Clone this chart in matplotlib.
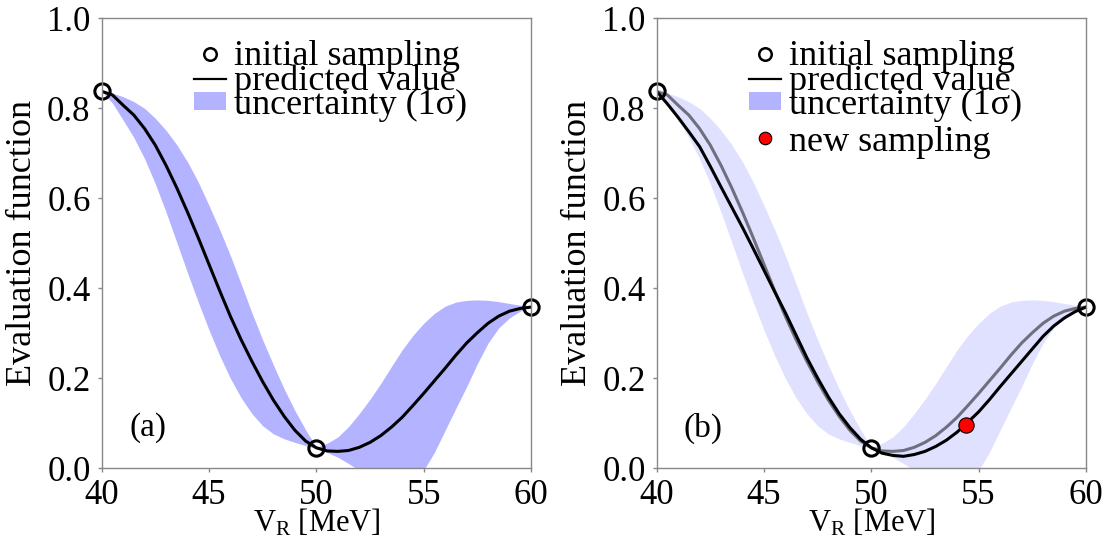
import numpy as np
import matplotlib.pyplot as plt
from matplotlib.lines import Line2D
from matplotlib.patches import Patch

plt.rcParams["font.family"] = ["Liberation Serif", "DejaVu Serif"]
plt.rcParams["mathtext.fontset"] = "custom"
plt.rcParams["mathtext.rm"] = "Liberation Serif"

# V_R grid [MeV], read every 0.5 MeV
v_r = np.arange(40, 60.01, 0.5)

# (a) prediction after initial sampling
mean_a = [0.838, 0.830, 0.807, 0.785, 0.755, 0.718, 0.673, 0.623, 0.569, 0.512,
          0.453, 0.394, 0.337, 0.285, 0.237, 0.192, 0.151, 0.115, 0.084, 0.060,
          0.045, 0.038, 0.037, 0.039, 0.046, 0.057, 0.072, 0.091, 0.113, 0.139,
          0.166, 0.194, 0.222, 0.251, 0.278, 0.301, 0.322, 0.338, 0.349, 0.355, 0.358]
upper_a = [0.838, 0.834, 0.826, 0.815, 0.800, 0.778, 0.751, 0.719, 0.681, 0.636,
           0.584, 0.530, 0.472, 0.409, 0.345, 0.285, 0.229, 0.176, 0.128, 0.085,
           0.046, 0.055, 0.069, 0.092, 0.121, 0.153, 0.188, 0.226, 0.263, 0.295,
           0.322, 0.344, 0.360, 0.369, 0.373, 0.374, 0.373, 0.370, 0.366, 0.362, 0.358]
lower_a = [0.838, 0.812, 0.774, 0.735, 0.688, 0.632, 0.569, 0.502, 0.434, 0.369,
           0.307, 0.250, 0.199, 0.156, 0.121, 0.094, 0.076, 0.065, 0.057, 0.050,
           0.043, 0.035, 0.024, 0.010, -0.005, -0.020, -0.035, -0.045, -0.045, -0.030,
           -0.005, 0.035, 0.084, 0.133, 0.181, 0.232, 0.278, 0.312, 0.334, 0.349, 0.358]

# (b) prediction after adding the new sampling point
mean_b = [0.838, 0.810, 0.780, 0.748, 0.715, 0.671, 0.625, 0.580, 0.535, 0.488,
          0.440, 0.392, 0.345, 0.295, 0.245, 0.200, 0.158, 0.121, 0.090, 0.064,
          0.045, 0.033, 0.028, 0.026, 0.030, 0.037, 0.048, 0.062, 0.080, 0.102,
          0.125, 0.152, 0.181, 0.209, 0.237, 0.265, 0.293, 0.316, 0.334, 0.348, 0.358]

init_x = [40, 50, 60]
init_y = [0.838, 0.045, 0.358]
new_x = [54.4]
new_y = [0.095]

band_color = (0.70, 0.70, 1.0)
band_light = (0.88, 0.88, 1.0)

fig = plt.figure(figsize=(11.04, 5.39), dpi=100)
ax_a = fig.add_axes([0.0921, 0.1317, 0.3889, 0.834])
ax_b = fig.add_axes([0.5948, 0.1317, 0.3889, 0.834])

tick_fs = 25
legend_fs = 26


def style_axes(ax):
    ax.set_xlim(40, 60)
    ax.set_ylim(0, 1)
    ax.set_xticks([40, 45, 50, 55, 60])
    ax.set_yticks([0, 0.2, 0.4, 0.6, 0.8, 1.0])
    ax.set_yticklabels(["0.0", "0.2", "0.4", "0.6", "0.8", "1.0"])
    ax.tick_params(direction="out", length=3, width=1, color="#888888",
                   labelsize=tick_fs, pad=5)
    for s in ax.spines.values():
        s.set_color("#888888")
        s.set_linewidth(1)
    ax.set_xlabel(r"$\mathregular{V_R}$ [MeV]", fontsize=22, labelpad=-4)
    ax.set_ylabel("Evaluation function", fontsize=26, labelpad=6)


def add_legend(ax):
    handles = [
        Line2D([], [], marker="o", ls="none", mfc="white", mec="black", ms=9, mew=1.8),
        Line2D([], [], color="black", lw=1.6),
        Patch(color=band_color, lw=0),
    ]
    labels = ["initial sampling", "predicted value", "uncertainty (1\u03c3)"]
    return ax.legend(handles, labels, loc="upper left", bbox_to_anchor=(0.215, 0.952),
                     frameon=False, fontsize=legend_fs, borderpad=0, borderaxespad=0,
                     handlelength=0.9, handleheight=0.4, handletextpad=0.2,
                     labelspacing=-0.25)


# panel (a)
ax_a.fill_between(v_r, lower_a, upper_a, color=band_color, lw=0)
ax_a.plot(v_r, mean_a, color="black", lw=2.2)
ax_a.plot(init_x, init_y, "o", mfc="none", mec="black", ms=11, mew=2.2, clip_on=False)
style_axes(ax_a)
ax_a.text(42.15, 0.089, "(a)", fontsize=24, ha="center", va="center")
add_legend(ax_a)

# panel (b)
ax_b.fill_between(v_r, lower_a, upper_a, color=band_light, lw=0)
ax_b.plot(v_r, mean_a, color="black", lw=2.2, alpha=0.5)
ax_b.plot(v_r, mean_b, color="black", lw=2.2)
ax_b.plot(init_x, init_y, "o", mfc="none", mec="black", ms=11, mew=2.2, clip_on=False)
ax_b.plot(new_x, new_y, "o", mfc="red", mec="black", ms=11, mew=0.8)
style_axes(ax_b)
ax_b.text(42.15, 0.089, "(b)", fontsize=24, ha="center", va="center")
leg1 = add_legend(ax_b)
ax_b.add_artist(leg1)
ax_b.legend([Line2D([], [], marker="o", ls="none", mfc="red", mec="black", ms=9, mew=0.8)],
            ["new sampling"], loc="upper left", bbox_to_anchor=(0.215, 0.762),
            frameon=False, fontsize=legend_fs, borderpad=0, borderaxespad=0,
            handlelength=0.9, handletextpad=0.2)

fig.savefig("out.png", dpi=100)
